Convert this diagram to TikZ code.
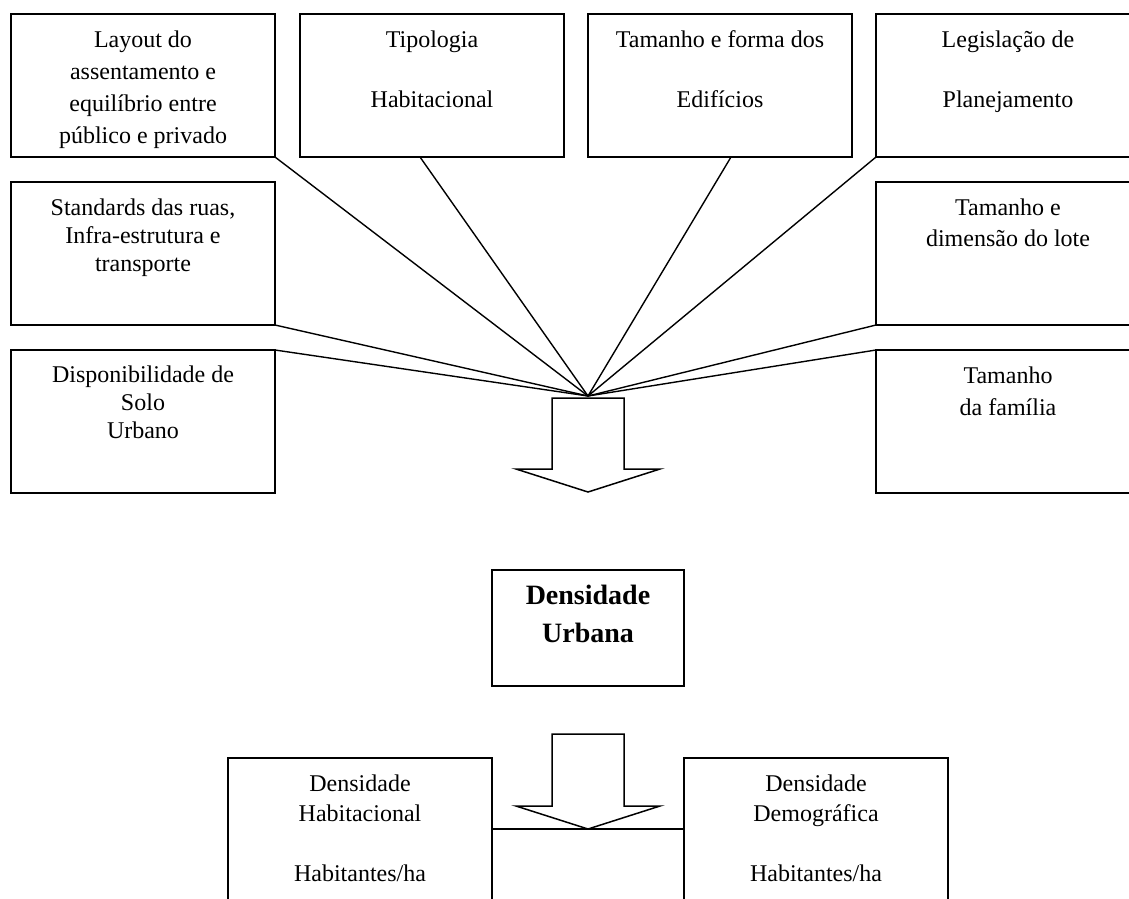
\documentclass[tikz,border=0pt]{standalone}
\usepackage{fontspec}
\setmainfont{Liberation Serif}
\newcommand\fl{\rule{0pt}{18pt}}
\newcommand\flb{\rule{0pt}{21pt}}
\begin{document}
\begin{tikzpicture}[x=1pt,y=-1pt,
  box/.style={draw, line width=1.5pt, minimum width=264pt, minimum height=143pt, inner sep=0pt, outer sep=0pt},
  lbl/.style={anchor=north, inner sep=0pt, outer sep=0pt, align=center, font=\fontsize{24}{32}\selectfont},
  link/.style={line width=1.4pt},
  bigarrow/.style={draw, line width=1.5pt, line join=miter}]
\useasboundingbox (0,0) rectangle (1129,898);
\clip (0,0) rectangle (1129,898);

% boxes
\node[box] (b1) at (143,85.5) {};
\node[box] (b2) at (432,85.5) {};
\node[box] (b3) at (720,85.5) {};
\node[box] (b4) at (1008,85.5) {};
\node[box] (std) at (143,253.5) {};
\node[box] (td) at (1008,253.5) {};
\node[box] (disp) at (143,421.5) {};
\node[box] (tf) at (1008,421.5) {};
\node[box, minimum width=192pt, minimum height=116pt] (du) at (588,628) {};
\node[box, minimum height=200pt] (bl) at (360,858) {};
\node[box, minimum height=200pt] (br) at (816,858) {};

% labels
\node[lbl] (t1) at (143,29.5) {\fl Layout do\\assentamento e\\equilíbrio entre\\público e privado};
\node[lbl] (t2) at (432,29.5) {\fl Tipologia\\[28pt]Habitacional};
\node[lbl] (t3) at (720,29.5) {\fl Tamanho e forma dos\\[28pt]Edifícios};
\node[lbl] (t4) at (1008,29.5) {\fl Legislação de\\[28pt]Planejamento};
\node[lbl, font=\fontsize{24}{28.3}\selectfont] (tstd) at (143,197.2) {\fl Standards das ruas,\\Infra-estrutura e\\transporte};
\node[lbl, font=\fontsize{24}{31.3}\selectfont] (ttd) at (1008,197.2) {\fl Tamanho e\\dimensão do lote};
\node[lbl, font=\fontsize{24}{28}\selectfont] (tdisp) at (143,364.5) {\fl Disponibilidade de\\Solo\\Urbano};
\node[lbl, font=\fontsize{24}{31.7}\selectfont] (ttf) at (1008,365.5) {\fl Tamanho\\da família};
\node[lbl, font=\bfseries\fontsize{28}{38}\selectfont] (tdu) at (588,583.5) {\flb Densidade\\Urbana};
\node[lbl, font=\fontsize{24}{30}\selectfont] (tbl) at (360,773.5) {\fl Densidade\\Habitacional\\[30pt]Habitantes/ha};
\node[lbl, font=\fontsize{24}{30}\selectfont] (tbr) at (816,773.5) {\fl Densidade\\Demográfica\\[30pt]Habitantes/ha};

% converging connectors
\coordinate (focal) at (588,396);
\draw[link] (b1.south east) -- (focal);
\draw[link] ([xshift=-12pt]b2.south) -- (focal);
\draw[link] ([xshift=11pt]b3.south) -- (focal);
\draw[link] (b4.south west) -- (focal);
\draw[link] (std.south east) -- (focal);
\draw[link] (disp.north east) -- (focal);
\draw[link] (td.south west) -- (focal);
\draw[link] (tf.north west) -- (focal);

% block arrows
\draw[bigarrow] (552,398) -- (624,398) -- (624,469) -- (660,469) -- (588,492) -- (516,469) -- (552,469) -- cycle;
\coordinate (tip2) at (588,829);
\draw[bigarrow] (552,734) -- (624,734) -- (624,806) -- (660,806) -- (tip2) -- (516,806) -- (552,806) -- cycle;

% bottom link
\draw[link] (bl.east |- tip2) -- (br.west |- tip2);
\end{tikzpicture}
\end{document}
